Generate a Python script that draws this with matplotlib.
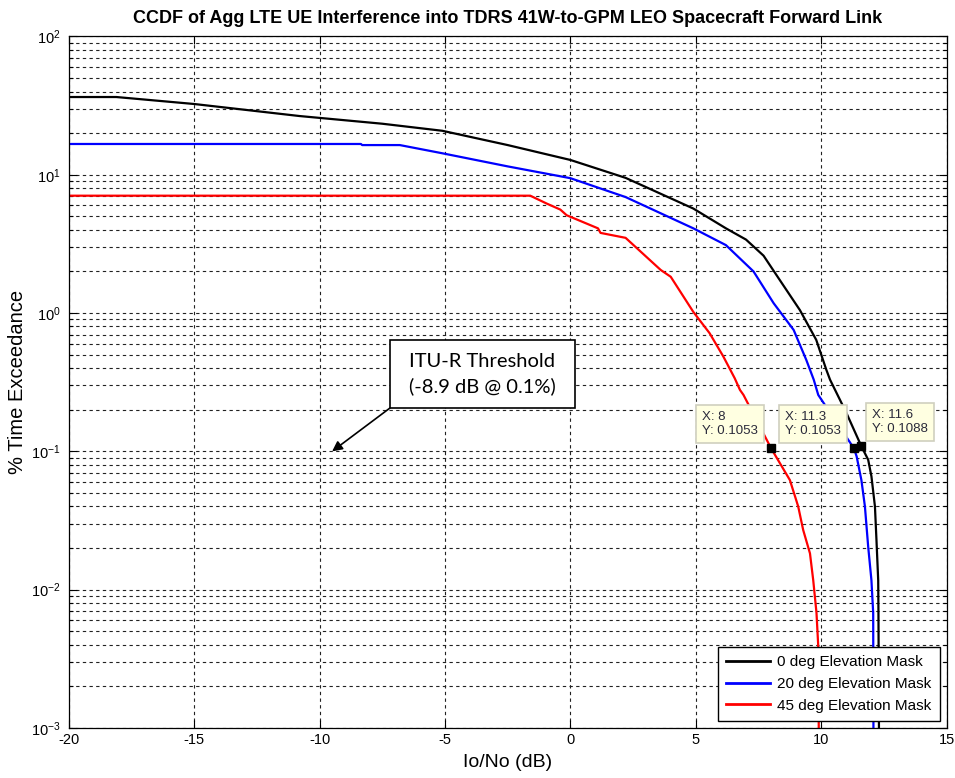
import numpy as np
import matplotlib
matplotlib.use("Agg")
import matplotlib.pyplot as plt
from matplotlib.patches import Rectangle
from matplotlib.ticker import LogLocator, NullFormatter

plt.rcParams['font.family'] = ['Liberation Sans', 'DejaVu Sans']
plt.rcParams['mathtext.fontset'] = 'custom'
plt.rcParams['mathtext.rm'] = 'Liberation Sans'
plt.rcParams['mathtext.it'] = 'Liberation Sans:italic'
plt.rcParams['mathtext.bf'] = 'Liberation Sans:bold'
plt.rcParams['axes.unicode_minus'] = False

# CCDF curves, Io/No (dB) vs % time exceedance
x_0deg = [-20, -18.1, -15.0, -10.8, -7.5, -5.1, -2.5, 0.0, 2.2, 4.9, 6.2, 7.0, 7.7,
          8.35, 9.15, 9.8, 10.2, 10.35, 11.0, 11.6, 11.87, 12.0, 12.14, 12.2,
          12.27, 12.28, 12.3]
y_0deg = [36.5, 36.5, 32.5, 26.6, 23.4, 20.8, 16.4, 12.8, 9.5, 5.7, 4.1, 3.4, 2.6,
          1.73, 1.05, 0.64, 0.39, 0.33, 0.19, 0.1088, 0.087, 0.066, 0.040, 0.023,
          0.0117, 0.0068, 0.001]

x_20deg = [-20, -8.35, -8.3, -6.8, -5.1, -2.5, 0.0, 2.2, 4.9, 6.2, 7.3, 8.1,
           8.9, 9.4, 9.7, 9.88, 11.3, 11.41, 11.6, 11.74, 11.87, 12.0, 12.07, 12.08]
y_20deg = [16.7, 16.7, 16.4, 16.4, 14.3, 11.5, 9.45, 6.9, 4.1, 3.1, 2.0, 1.18,
           0.755, 0.46, 0.33, 0.256, 0.1053, 0.092, 0.062, 0.040, 0.0205, 0.0117,
           0.0068, 0.001]

x_45deg = [-20, -1.6, -0.95, -0.4, -0.15, 1.1, 1.2, 2.2, 3.6, 4.0, 4.9, 5.55,
           6.1, 6.55, 6.76, 6.9, 8.0, 8.75, 9.08, 9.28, 9.55, 9.68, 9.81, 9.88, 9.9]
y_45deg = [7.06, 7.06, 6.2, 5.6, 5.1, 4.1, 3.8, 3.5, 2.05, 1.83, 1.02, 0.715,
           0.484, 0.338, 0.278, 0.256, 0.1053, 0.062, 0.040, 0.027, 0.0183, 0.0117,
           0.0068, 0.0039, 0.001]

labels = ['0 deg Elevation Mask', '20 deg Elevation Mask', '45 deg Elevation Mask']
colors = ['black', 'blue', 'red']

# data tips
tip_x = [8, 11.3, 11.6]
tip_y = [0.1053, 0.1053, 0.1088]

fig = plt.figure(figsize=(9.55, 7.78), dpi=100)
ax = fig.add_axes([0.0719, 0.0643, 0.9194, 0.8888])

for xs, ys, c, lab in zip([x_0deg, x_20deg, x_45deg], [y_0deg, y_20deg, y_45deg],
                          colors, labels):
    ax.plot(xs, ys, color=c, lw=1.6, label=lab)

ax.set_yscale('log')
ax.set_xlim(-20, 15)
ax.set_ylim(1e-3, 1e2)
ax.set_xticks(np.arange(-20, 16, 5))
ax.yaxis.set_major_locator(LogLocator(base=10, numticks=10))
ax.yaxis.set_minor_locator(LogLocator(base=10, subs=np.arange(2, 10), numticks=20))
ax.yaxis.set_minor_formatter(NullFormatter())

ax.grid(True, which='major', axis='both', color='#222222', lw=0.8, ls=(0, (3, 3)))
ax.grid(True, which='minor', axis='y', color='#222222', lw=0.8, ls=(0, (3, 3)))
ax.set_axisbelow(True)

ax.tick_params(which='both', direction='in', top=True, right=True, labelsize=10.5)
ax.tick_params(which='major', length=6, width=0.8)
ax.tick_params(which='minor', length=3, width=0.8)
ax.tick_params(axis='y', pad=6)
for sp in ax.spines.values():
    sp.set_linewidth(0.9)

ax.set_title('CCDF of Agg LTE UE Interference into TDRS 41W-to-GPM LEO Spacecraft Forward Link',
             fontsize=13, fontweight='bold', pad=10)
ax.set_xlabel('Io/No (dB)', fontsize=14, labelpad=5)
ax.set_ylabel('% Time Exceedance', fontsize=14.5, labelpad=3)

leg = ax.legend(loc='lower right', fontsize=11, frameon=True, fancybox=False,
                edgecolor='black', framealpha=1, handlelength=2.9, handletextpad=0.45,
                labelspacing=0.5, borderaxespad=0.45, borderpad=0.55)
leg.get_frame().set_linewidth(1.0)
for line in leg.get_lines():
    line.set_linewidth(2.0)

# data tip markers and boxes
tip_offsets = [(-9.5, 8), (-9.5, 8), (7.5, 8)]
tip_align = ['right', 'right', 'left']
for tx, ty, off, ha in zip(tip_x, tip_y, tip_offsets, tip_align):
    ax.plot(tx, ty, 's', color='black', ms=6, zorder=6)
    ax.annotate('X: %g\nY: %.4f' % (tx, ty), xy=(tx, ty), xytext=off,
                textcoords='offset points', ha=ha, va='bottom', multialignment='left',
                fontsize=9.5, color='#2a2a3a', linespacing=1.25, zorder=7,
                bbox=dict(boxstyle='square,pad=0.45', fc='#ffffe1', ec='#cfcfbf', lw=1.2))

# threshold callout
box_x0, box_x1 = -7.19, 0.18
box_y0, box_y1 = 0.206, 0.639
ax.add_patch(Rectangle((box_x0, box_y0), box_x1 - box_x0, box_y1 - box_y0,
                       fc='white', ec='black', lw=1.2, zorder=7))
ax.text((box_x0 + box_x1) / 2, np.sqrt(box_y0 * box_y1),
        'ITU-R Threshold\n(-8.9 dB @ 0.1%)', ha='center', va='center',
        fontsize=14.5, family=['Lato', 'DejaVu Sans'], linespacing=1.5, zorder=8)
ax.annotate('', xy=(-9.5, 0.1), xytext=(box_x0, box_y0),
            arrowprops=dict(arrowstyle='-|>', color='black', lw=1.2, mutation_scale=15,
                            shrinkA=0, shrinkB=0))

fig.savefig('out.png', dpi=100)
